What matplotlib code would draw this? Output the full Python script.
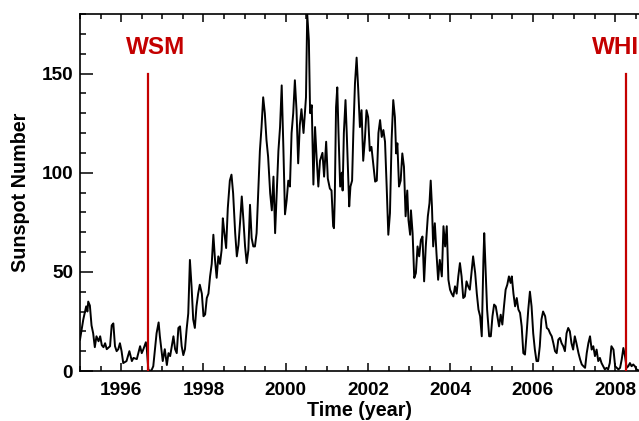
import matplotlib
matplotlib.use("Agg")
import matplotlib.pyplot as plt
from matplotlib.ticker import MultipleLocator

# ---- data ----
years = [
    1995.00, 1995.08, 1995.15, 1995.18, 1995.20, 1995.24, 1995.28, 1995.32, 1995.36, 1995.40,
    1995.45, 1995.49, 1995.53, 1995.57, 1995.61, 1995.65, 1995.73, 1995.77, 1995.81, 1995.85,
    1995.89, 1995.93, 1995.97, 1996.01, 1996.05, 1996.13, 1996.20, 1996.26, 1996.30, 1996.38,
    1996.46, 1996.50, 1996.54, 1996.60, 1996.62, 1996.66, 1996.70, 1996.74, 1996.78, 1996.86,
    1996.91, 1996.94, 1997.01, 1997.06, 1997.11, 1997.15, 1997.19, 1997.23, 1997.27, 1997.31,
    1997.35, 1997.39, 1997.43, 1997.47, 1997.51, 1997.55, 1997.59, 1997.63, 1997.67, 1997.71,
    1997.75, 1997.79, 1997.83, 1997.87, 1997.91, 1997.96, 1998.00, 1998.04, 1998.08, 1998.12,
    1998.16, 1998.20, 1998.24, 1998.28, 1998.32, 1998.36, 1998.40, 1998.44, 1998.47, 1998.50,
    1998.55, 1998.59, 1998.64, 1998.68, 1998.72, 1998.77, 1998.81, 1998.85, 1998.89, 1998.93,
    1998.97, 1999.01, 1999.05, 1999.09, 1999.13, 1999.17, 1999.21, 1999.25, 1999.29, 1999.33,
    1999.37, 1999.41, 1999.45, 1999.49, 1999.53, 1999.57, 1999.62, 1999.66, 1999.70, 1999.74,
    1999.78, 1999.82, 1999.86, 1999.90, 1999.94, 1999.98, 2000.02, 2000.06, 2000.10, 2000.14,
    2000.18, 2000.22, 2000.26, 2000.30, 2000.34, 2000.38, 2000.43, 2000.47, 2000.49, 2000.52,
    2000.56, 2000.59, 2000.63, 2000.67, 2000.71, 2000.75, 2000.79,
    2000.83, 2000.89, 2000.93, 2000.98, 2001.02, 2001.07, 2001.11, 2001.15, 2001.17, 2001.19,
    2001.22, 2001.25, 2001.28, 2001.32, 2001.36, 2001.38, 2001.41, 2001.45, 2001.48, 2001.52,
    2001.54, 2001.57, 2001.61, 2001.64, 2001.68, 2001.72, 2001.76, 2001.80, 2001.84, 2001.88,
    2001.92, 2001.96, 2002.00, 2002.04, 2002.08, 2002.13, 2002.17, 2002.21, 2002.25, 2002.29,
    2002.33, 2002.37, 2002.41, 2002.45, 2002.49, 2002.53, 2002.57, 2002.61, 2002.65, 2002.68,
    2002.71, 2002.75, 2002.79, 2002.83, 2002.87, 2002.91, 2002.95, 2002.98, 2003.02, 2003.04,
    2003.08, 2003.12, 2003.16, 2003.20, 2003.24, 2003.28, 2003.32, 2003.36, 2003.40, 2003.45,
    2003.49, 2003.52, 2003.55, 2003.58, 2003.62, 2003.66, 2003.70, 2003.74, 2003.79, 2003.83,
    2003.87, 2003.91, 2003.95, 2003.99, 2004.03, 2004.07, 2004.11, 2004.15, 2004.19, 2004.23,
    2004.27, 2004.31, 2004.35, 2004.39, 2004.43, 2004.47, 2004.51, 2004.55, 2004.60, 2004.64,
    2004.68, 2004.72, 2004.76, 2004.80, 2004.82, 2004.85, 2004.89, 2004.94, 2004.98, 2005.02,
    2005.06, 2005.10, 2005.14, 2005.18, 2005.22, 2005.26, 2005.30, 2005.34, 2005.38, 2005.42,
    2005.46, 2005.49, 2005.53, 2005.57, 2005.61, 2005.65, 2005.69, 2005.73, 2005.77, 2005.81,
    2005.85, 2005.89, 2005.93, 2005.97, 2006.01, 2006.05, 2006.09, 2006.13, 2006.17, 2006.21,
    2006.25, 2006.30, 2006.34, 2006.38, 2006.42, 2006.46, 2006.50, 2006.54, 2006.58, 2006.62,
    2006.66, 2006.70, 2006.74, 2006.78, 2006.82, 2006.86, 2006.90, 2006.94, 2006.98, 2007.02,
    2007.06, 2007.11, 2007.15, 2007.19, 2007.23, 2007.27, 2007.31, 2007.35, 2007.39, 2007.43,
    2007.47, 2007.51, 2007.55, 2007.59, 2007.63, 2007.67, 2007.71, 2007.75, 2007.79, 2007.83,
    2007.87, 2007.91, 2007.96, 2008.00, 2008.04, 2008.08, 2008.12, 2008.16, 2008.20, 2008.24,
    2008.28, 2008.32, 2008.36, 2008.40, 2008.44, 2008.48, 2008.52, 2008.56,
]
sunspots = [
    15.8, 26, 32.6, 30, 35, 33, 23, 19, 12, 17.5,
    15, 17.5, 13, 12, 14, 11, 12.5, 23, 24, 12.5,
    10, 11, 14, 10, 4, 5, 10, 5, 6.6, 6,
    12.5, 9, 11, 14.5, 12, 0.7, 0, 0.5, 2.4, 19,
    24.5, 17.5, 5, 11, 3, 9, 7.5, 12.5, 17.5, 11,
    9, 21.7, 22.5, 12.5, 8, 11, 21, 29, 56, 42.7,
    26, 21.7, 32.6, 39, 43.5, 39, 27.6, 28.5, 36.8, 39,
    47.7, 54, 68.7, 56, 47, 57.8, 54, 61, 77, 71,
    62, 82, 96, 99, 89.6, 69.5, 57.8, 63.6, 75.4, 88,
    76, 62.8, 54.4, 61, 83.8, 67, 62.8, 62.8, 69.5, 89.6,
    111, 123, 138, 130, 116.5, 108, 89.6, 81, 98, 69.5,
    90, 111, 123, 144, 113, 79, 86, 96, 93, 120,
    130, 146.6, 131.5, 104.7, 124, 132, 120, 131.5, 138, 180,
    166.8, 130, 134, 94, 123, 107, 93,
    106, 110, 98, 115.6, 97, 92, 91, 73, 72, 88,
    133, 143, 120, 93, 100, 91, 120, 136.6, 120, 95,
    83, 93, 96, 120, 145, 158, 141.6, 123, 131.5, 106,
    116.5, 131.5, 128, 111, 113, 103, 95.5, 96, 120, 126.5,
    118, 121.5, 115.6, 93, 68.7, 79.6, 116.5, 136.6, 128, 109.7,
    114.8, 93, 96, 109.7, 103, 78, 91, 76, 68.7, 81,
    69.5, 46.9, 49.4, 62.8, 57.8, 66, 67.8, 45.2, 62.8, 78,
    84.6, 96, 83, 62.8, 74.5, 59.4, 46, 56, 47.7, 73,
    62.8, 73, 46, 41, 39, 37.6, 42.7, 39, 47.7, 54.4,
    47.7, 36.8, 37.6, 45.2, 42.7, 41, 49.4, 57.8, 49.4, 39,
    31, 27.6, 17.5, 56, 69.5, 52.8, 31, 17.5, 17.5, 27.6,
    33.5, 32.6, 27.6, 22.5, 28.4, 23.4, 32.6, 41, 43.5, 47.7,
    44.4, 47.7, 39, 32.6, 36.8, 31, 29.3, 22.5, 9, 8.3,
    19, 31, 40, 32.6, 19, 10.8, 5, 5, 12.5, 26,
    30, 27.6, 21.7, 21, 19, 17.5, 14, 10, 9, 15.8,
    16.7, 14, 12.5, 10, 19, 21.7, 20, 14, 10.8, 17.5,
    14, 9, 5.8, 3.3, 2.4, 1.6, 9, 14, 17.5, 10.8,
    12.5, 7.5, 10.8, 5, 6.6, 4, 2.4, 0.8, 1.6, 0.8,
    4, 12.5, 10.8, 2.4, 1.6, 0.8, 1.6, 5.8, 11.6, 7.5,
    1.6, 2.4, 4, 2.4, 3.3, 2.4, 0.8, 0.4,
]
event_names = ["WSM", "WHI"]
event_years = [1996.64, 2008.26]
event_label_x = [1996.12, 2007.43]
event_top = 150
x_ticks = [1996, 1998, 2000, 2002, 2004, 2006, 2008]
y_ticks = [0, 50, 100, 150]

RED = "#c40000"
plt.rcParams["font.family"] = ["Liberation Sans", "DejaVu Sans"]
plt.rcParams["font.weight"] = "bold"

fig = plt.figure(figsize=(6.39, 4.21), dpi=100)
ax = fig.add_axes([80 / 639, 50 / 421, 559 / 639, 357 / 421])

ax.plot(years, sunspots, color="black", lw=1.4, zorder=2, clip_on=True)
for name, ex, lx in zip(event_names, event_years, event_label_x):
    ax.plot([ex, ex], [0, event_top], color=RED, lw=1.6, zorder=3)
    ax.text(lx, 160, name, color=RED, fontsize=17.5, fontweight="bold",
            ha="left", va="baseline", clip_on=False)

ax.set_xlim(1995, 2008.58)
ax.set_ylim(0, 180)
ax.set_xticks(x_ticks)
ax.set_yticks(y_ticks)
ax.xaxis.set_minor_locator(MultipleLocator(0.5))
ax.yaxis.set_minor_locator(MultipleLocator(10))
ax.tick_params(axis="x", which="major", direction="in", length=6, width=1.1,
               top=True, bottom=True, labelsize=13.7, pad=8)
ax.tick_params(axis="x", which="minor", direction="in", length=3.5, width=1.1,
               top=True, bottom=True)
ax.tick_params(axis="y", which="major", direction="in", length=9, width=1.1,
               left=True, right=False, labelsize=13.7, pad=5)
ax.tick_params(axis="y", which="minor", direction="in", length=4.5, width=1.1,
               left=True, right=False)
for lab in ax.get_xticklabels() + ax.get_yticklabels():
    lab.set_fontweight("bold")

ax.spines["right"].set_visible(False)
for s in ("left", "bottom", "top"):
    ax.spines[s].set_linewidth(1.2)

ax.set_xlabel("Time (year)", fontsize=14.2, fontweight="bold", labelpad=1)
ax.set_ylabel("Sunspot Number", fontsize=14.2, fontweight="bold", labelpad=8)

fig.savefig("out.png", dpi=100)
